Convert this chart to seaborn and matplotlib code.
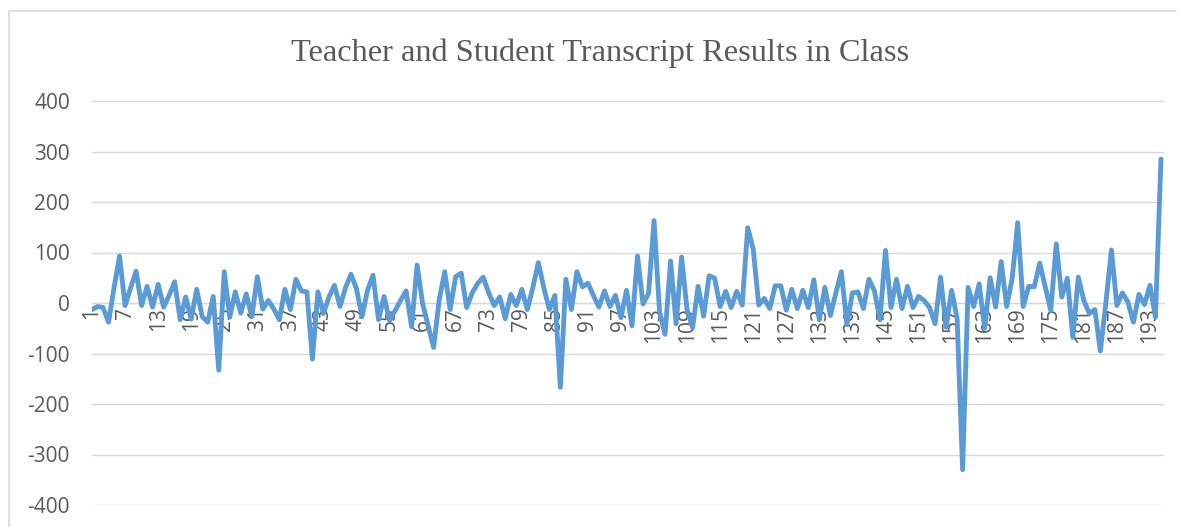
import matplotlib
matplotlib.use("Agg")
import matplotlib.pyplot as plt
import seaborn as sns
import pandas as pd
from matplotlib.lines import Line2D

# transcript entry numbers (categories)
entries = list(range(1, 196))

# result per transcript entry
results = [
    -13, -7, -9, -38, 30, 93, -5, 30, 63, -5,
    33, -8, 37, -8, 15, 42, -33, 12, -32, 27,
    -27, -38, 13, -133, 62, -28, 22, -20, 18, -27,
    52, -12, 5, -12, -33, 27, -13, 47, 24, 22,
    -111, 22, -21, 12, 35, -7, 30, 57, 28, -27,
    25, 55, -33, 13, -35, -15, 5, 24, -47, 75,
    -1, -45, -88, 5, 62, -13, 52, 59, -9, 20,
    39, 51, 20, -5, 12, -31, 17, -5, 27, -13,
    30, 80, 30, -13, 15, -167, 47, -13, 62, 32,
    39, 15, -8, 24, -7, 15, -29, 25, -45, 93,
    -2, 19, 163, -17, -62, 83, -41, 91, -14, -49,
    33, -26, 54, 49, -7, 23, -9, 23, -4, 149,
    107, -4, 9, -11, 34, 34, -14, 27, -11, 25,
    -9, 46, -33, 31, -25, 20, 62, -43, 20, 22,
    -11, 47, 24, -33, 104, -9, 47, -11, 33, -9,
    13, 5, -9, -41, 51, -48, 25, -30, -330, 31,
    -7, 38, -50, 50, -8, 82, -7, 49, 159, -7,
    33, 32, 79, 32, -15, 117, 12, 49, -68, 51,
    5, -21, -13, -95, 0, 105, -5, 20, 2, -38,
    17, -3, 35, -28, 285,
]

x_tick_labels = [str(i) for i in range(1, 196, 6)]
y_ticks = [-400, -300, -200, -100, 0, 100, 200, 300, 400]

TITLE = "Teacher and Student Transcript Results in Class"
LINE_COLOR = "#5B9BD5"
GRID_COLOR = "#D9D9D9"
TEXT_COLOR = "#595959"

sns.set_theme(style="white")
plt.rcParams["font.family"] = ["Open Sans", "DejaVu Sans"]

df = pd.DataFrame({"entry": entries, "result": results})

W, H = 1181, 527
fig = plt.figure(figsize=(W / 100, H / 100), dpi=100)
ax = fig.add_axes([92 / W, 1 - 505 / H, (1164 - 92) / W, (505 - 101) / H])

sns.lineplot(data=df, x="entry", y="result", ax=ax, color=LINE_COLOR,
             linewidth=3.5, zorder=3)

ax.set_xlim(1, 195.55)
ax.set_ylim(-400, 400)
ax.set_yticks(y_ticks)
ax.set_yticklabels([str(v) for v in y_ticks])
ax.set_xticks([int(t) for t in x_tick_labels])
ax.set_xticklabels(x_tick_labels)
ax.set_xlabel("")
ax.set_ylabel("")

ax.grid(axis="y", color=GRID_COLOR, linewidth=1.0)
ax.grid(axis="x", visible=False)
for side in ["top", "right", "left"]:
    ax.spines[side].set_visible(False)
ax.spines["bottom"].set_position(("data", 0))
ax.spines["bottom"].set_color(GRID_COLOR)
ax.spines["bottom"].set_linewidth(1.0)

ax.tick_params(axis="y", length=0, pad=16, labelsize=15, labelcolor=TEXT_COLOR)
ax.tick_params(axis="x", length=0, pad=3, labelsize=15, labelcolor=TEXT_COLOR,
               labelrotation=90)

fig.text(600 / W, 1 - 53 / H, TITLE, ha="center", va="center", fontsize=23.3,
         color=TEXT_COLOR, family=["Liberation Serif", "DejaVu Serif"])

# chart area border (left and top edges visible)
fig.add_artist(Line2D([9.5 / W, 9.5 / W], [0, 1 - 11 / H], color=GRID_COLOR,
                      linewidth=1.2, transform=fig.transFigure))
fig.add_artist(Line2D([9.5 / W, 1176 / W], [1 - 11 / H, 1 - 11 / H],
                      color=GRID_COLOR, linewidth=1.2, transform=fig.transFigure))

fig.savefig("out.png", dpi=100)
plt.close(fig)
